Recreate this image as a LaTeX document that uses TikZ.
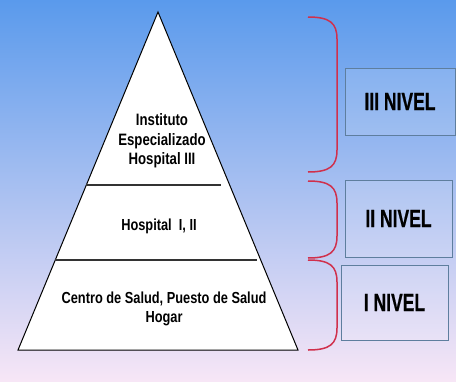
\documentclass[tikz,border=0pt]{standalone}
\usepackage{fontspec}
\usepackage{tikz}
\usetikzlibrary{calc}
\newfontfamily\angosta[FakeStretch=0.8]{Liberation Sans}
\newfontfamily\estrecha[FakeStretch=0.7, FakeBold=0.6]{Liberation Sans}
\definecolor{cielo}{HTML}{5A9AEC}
\definecolor{celeste}{HTML}{A9CDF2}
\definecolor{rosado}{HTML}{F7E6F6}
\definecolor{llaverojo}{HTML}{D0304C}
\definecolor{bordecaja}{HTML}{5E7E9E}

\begin{document}
\begin{tikzpicture}[x=1pt,y=-1pt,every node/.style={font=\angosta\bfseries\fontsize{16}{19}\selectfont, align=center},nivel/.style={draw=bordecaja, fill=white, fill opacity=0.12, text opacity=1, font=\estrecha\bfseries\fontsize{25}{28}\selectfont},llave/.style={draw=llaverojo, line width=1.5pt}]
  \shade[top color=cielo, middle color=celeste, bottom color=rosado] (0,0) rectangle (456,381);
  \useasboundingbox (0,0) rectangle (456,381);
  % piramide
  \coordinate (cima) at (158,12);
  \coordinate (izq) at (18,350);
  \coordinate (der) at (298,350);
  \draw[fill=white, line width=1pt] (cima) -- (der) -- (izq) -- cycle;
  \draw[line width=1.3pt, black!80, shorten >=9pt] ($(cima)!0.512!(izq)$) -- ($(cima)!0.512!(der)$);
  \draw[line width=1.3pt, black!80, shorten >=4pt] ($(cima)!0.734!(izq)$) -- ($(cima)!0.734!(der)$);
  \node[font=\angosta\bfseries\fontsize{16.5}{19.5}\selectfont] (n3) at (162,141) {Instituto\\Especializado\\Hospital III};
  \node (n2) at (159,226) {Hospital~ I, II};
  \node (n1) at (164,309) {Centro de Salud, Puesto de Salud\\Hogar};
  % niveles
  \node[nivel, minimum width=110pt, minimum height=67pt] (c3) at (400,101.5) {III NIVEL};
  \node[nivel, minimum width=107pt, minimum height=77pt] (c2) at (398.5,218.5) {II NIVEL};
  \node[nivel, minimum width=107pt, minimum height=75pt] (c1) at (394.5,302.5) {I NIVEL};
  % llaves
  \foreach \a/\b in {17/172, 181/258, 260/350}
    \draw[llave] (308,\a) .. controls (330,\a) and (337,\a+6) .. (337,\a+22) -- (337,\b-22) .. controls (337,\b-6) and (330,\b) .. (308,\b);
\end{tikzpicture}
\end{document}
